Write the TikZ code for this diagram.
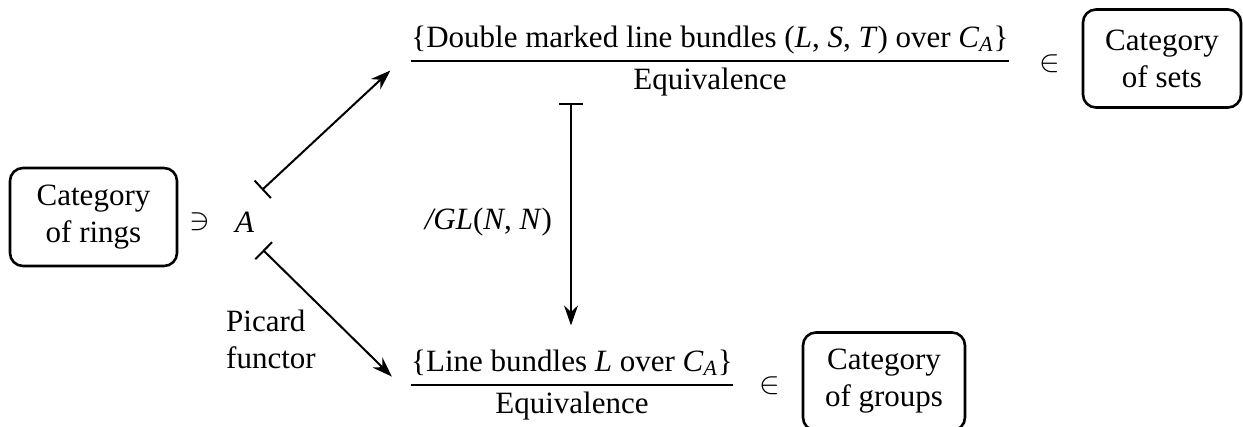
\RequirePackage{fix-cm}
\documentclass[tikz,border=0pt]{standalone}
\usepackage{amsmath}
\usepackage{fontspec}
\setmainfont{Liberation Serif}
\usepackage{tikz}
\usetikzlibrary{arrows.meta,positioning}

\newcommand{\mv}[1]{\textit{#1}}
\newcommand{\eqfrac}[1]{$\displaystyle\genfrac{}{}{1pt}{0}{\text{#1}}{\text{Equivalence}}$}

\begin{document}
\begin{tikzpicture}[
  x=0.5pt, y=-0.5pt,
  font=\fontsize{15.5}{18.5}\selectfont,
  catbox/.style={rectangle,rounded corners=6.5pt,draw=black,line width=1.3pt,
                 align=center,minimum width=80pt,minimum height=49pt,inner sep=0pt},
  rel/.style={inner sep=0pt},
  mapsto/.style={{Bar[width=12pt,line width=1pt]}-{Stealth[length=10pt,width=7pt]},line width=1pt},
  lbl/.style={align=left,inner sep=0pt}
]
\useasboundingbox (0,0) rectangle (1243,427);

% ring side
\node[catbox,minimum width=83.5pt] (rings) at (93.5,217) {Category\\of rings};
\node[rel] (ni) at (200,222) {$\ni$};
\node[rel,right=12pt of ni] (A) {\mv{A}};

% the two quotients
\node[inner sep=4pt] (dbl) at (710,61)
  {\eqfrac{\{Double marked line bundles (\mv{L}, \mv{S}, \mv{T}) over \mv{C}$_{\mv{A}}$\}}};
\node[inner sep=4pt] (line) at (572,385)
  {\eqfrac{\{Line bundles \mv{L} over \mv{C}$_{\mv{A}}$\}}};

% membership in categories
\node[rel] (inS) at (1050,64) {$\in$};
\node[catbox,minimum width=79pt] (sets) at (1162,58.5) {Category\\of sets};
\node[rel] (inG) at (770,386) {$\in$};
\node[catbox,minimum width=81pt] (groups) at (884,381.5) {Category\\of groups};

% bar ends of the maps
\coordinate (upbar) at (262,190);
\coordinate (lowbar) at (263,250);
\coordinate (glbar) at (571,103);

% maps
\draw[mapsto,shorten >=7pt] (upbar) -- (dbl.west);
\draw[mapsto,shorten >=6pt] (lowbar) -- (line.west);
\draw[mapsto,shorten >=8pt] (glbar) -- (line.north -| glbar)
  node[midway,left=9pt,rel] (gl) {\mv{/GL}(\mv{N}, \mv{N})};

\node[lbl] (pic) at (271,339) {Picard\\functor};

\end{tikzpicture}
\end{document}
